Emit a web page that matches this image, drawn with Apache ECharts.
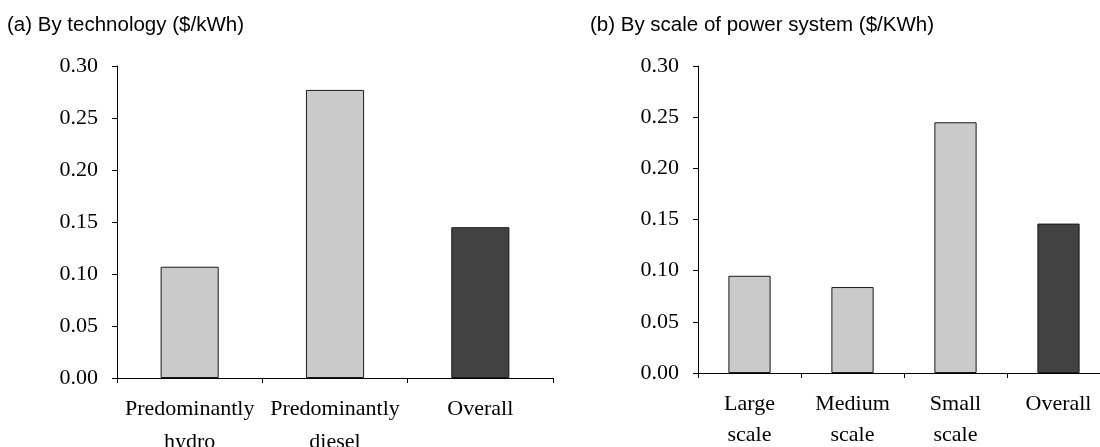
<!DOCTYPE html>
<html>
<head>
<meta charset="utf-8">
<script src="https://cdn.jsdelivr.net/npm/echarts@6/dist/echarts.min.js"></script>
<style>
  html, body { margin: 0; padding: 0; background: #fff; }
  #chart { width: 1100px; height: 447px; }
</style>
</head>
<body>
<div id="chart"></div>
<script>
// (a) by technology
const techCategories = ['Predominantly\nhydro', 'Predominantly\ndiesel', 'Overall'];
const techValues = [0.107, 0.277, 0.145];

// (b) by scale of power system
const scaleCategories = ['Large\nscale', 'Medium\nscale', 'Small\nscale', 'Overall'];
const scaleValues = [0.095, 0.084, 0.245, 0.146];

const yMin = 0;
const yMax = 0.30;
const yStep = 0.05;

const serif = '"Liberation Serif", "Times New Roman", serif';
const sans = '"Liberation Sans", Arial, sans-serif';

const chart = echarts.init(document.getElementById('chart'));

// light grey bars, dark bar for "Overall"
const barColor = (p) => (p.name === 'Overall' ? '#424242' : '#cacaca');

const makeX = (gridIndex, data, lineHeight, margin) => ({
  type: 'category',
  gridIndex,
  data,
  axisLine: { lineStyle: { color: '#000', width: 1 } },
  axisTick: { show: true, length: 5, lineStyle: { color: '#000' } },
  axisLabel: {
    color: '#000',
    fontFamily: serif,
    fontSize: 22,
    lineHeight,
    margin,
    interval: 0
  }
});

const makeY = (gridIndex) => ({
  type: 'value',
  gridIndex,
  min: yMin,
  max: yMax,
  interval: yStep,
  axisLine: { show: true, lineStyle: { color: '#000', width: 1 } },
  axisTick: { show: true, length: 5, lineStyle: { color: '#000' } },
  axisLabel: {
    color: '#000',
    fontFamily: serif,
    fontSize: 22,
    margin: 19,
    formatter: (v) => v.toFixed(2)
  },
  splitLine: { show: false }
});

const titleStyle = { fontFamily: sans, fontSize: 20.5, fontWeight: 'normal', color: '#000' };

const option = {
  backgroundColor: '#fff',
  animation: false,
  title: [
    { text: '(a) By technology ($/kWh)', left: 7, top: 15, padding: 0, textStyle: titleStyle },
    { text: '(b) By scale of power system ($/KWh)', left: 590, top: 15, padding: 0, textStyle: titleStyle }
  ],
  grid: [
    { left: 117, right: 547, top: 66, bottom: 69, outerBoundsMode: 'none', containLabel: false },
    { left: 698, right: -10, top: 66, bottom: 74, outerBoundsMode: 'none', containLabel: false }
  ],
  xAxis: [
    makeX(0, techCategories, 33, 15),
    makeX(1, scaleCategories, 31, 16)
  ],
  yAxis: [makeY(0), makeY(1)],
  series: [
    {
      type: 'bar',
      xAxisIndex: 0,
      yAxisIndex: 0,
      data: techValues,
      barWidth: '40%',
      itemStyle: { color: barColor, borderColor: '#1a1a1a', borderWidth: 1 }
    },
    {
      type: 'bar',
      xAxisIndex: 1,
      yAxisIndex: 1,
      data: scaleValues,
      barWidth: '41%',
      itemStyle: { color: barColor, borderColor: '#1a1a1a', borderWidth: 1 }
    }
  ]
};

chart.setOption(option);
</script>
</body>
</html>
